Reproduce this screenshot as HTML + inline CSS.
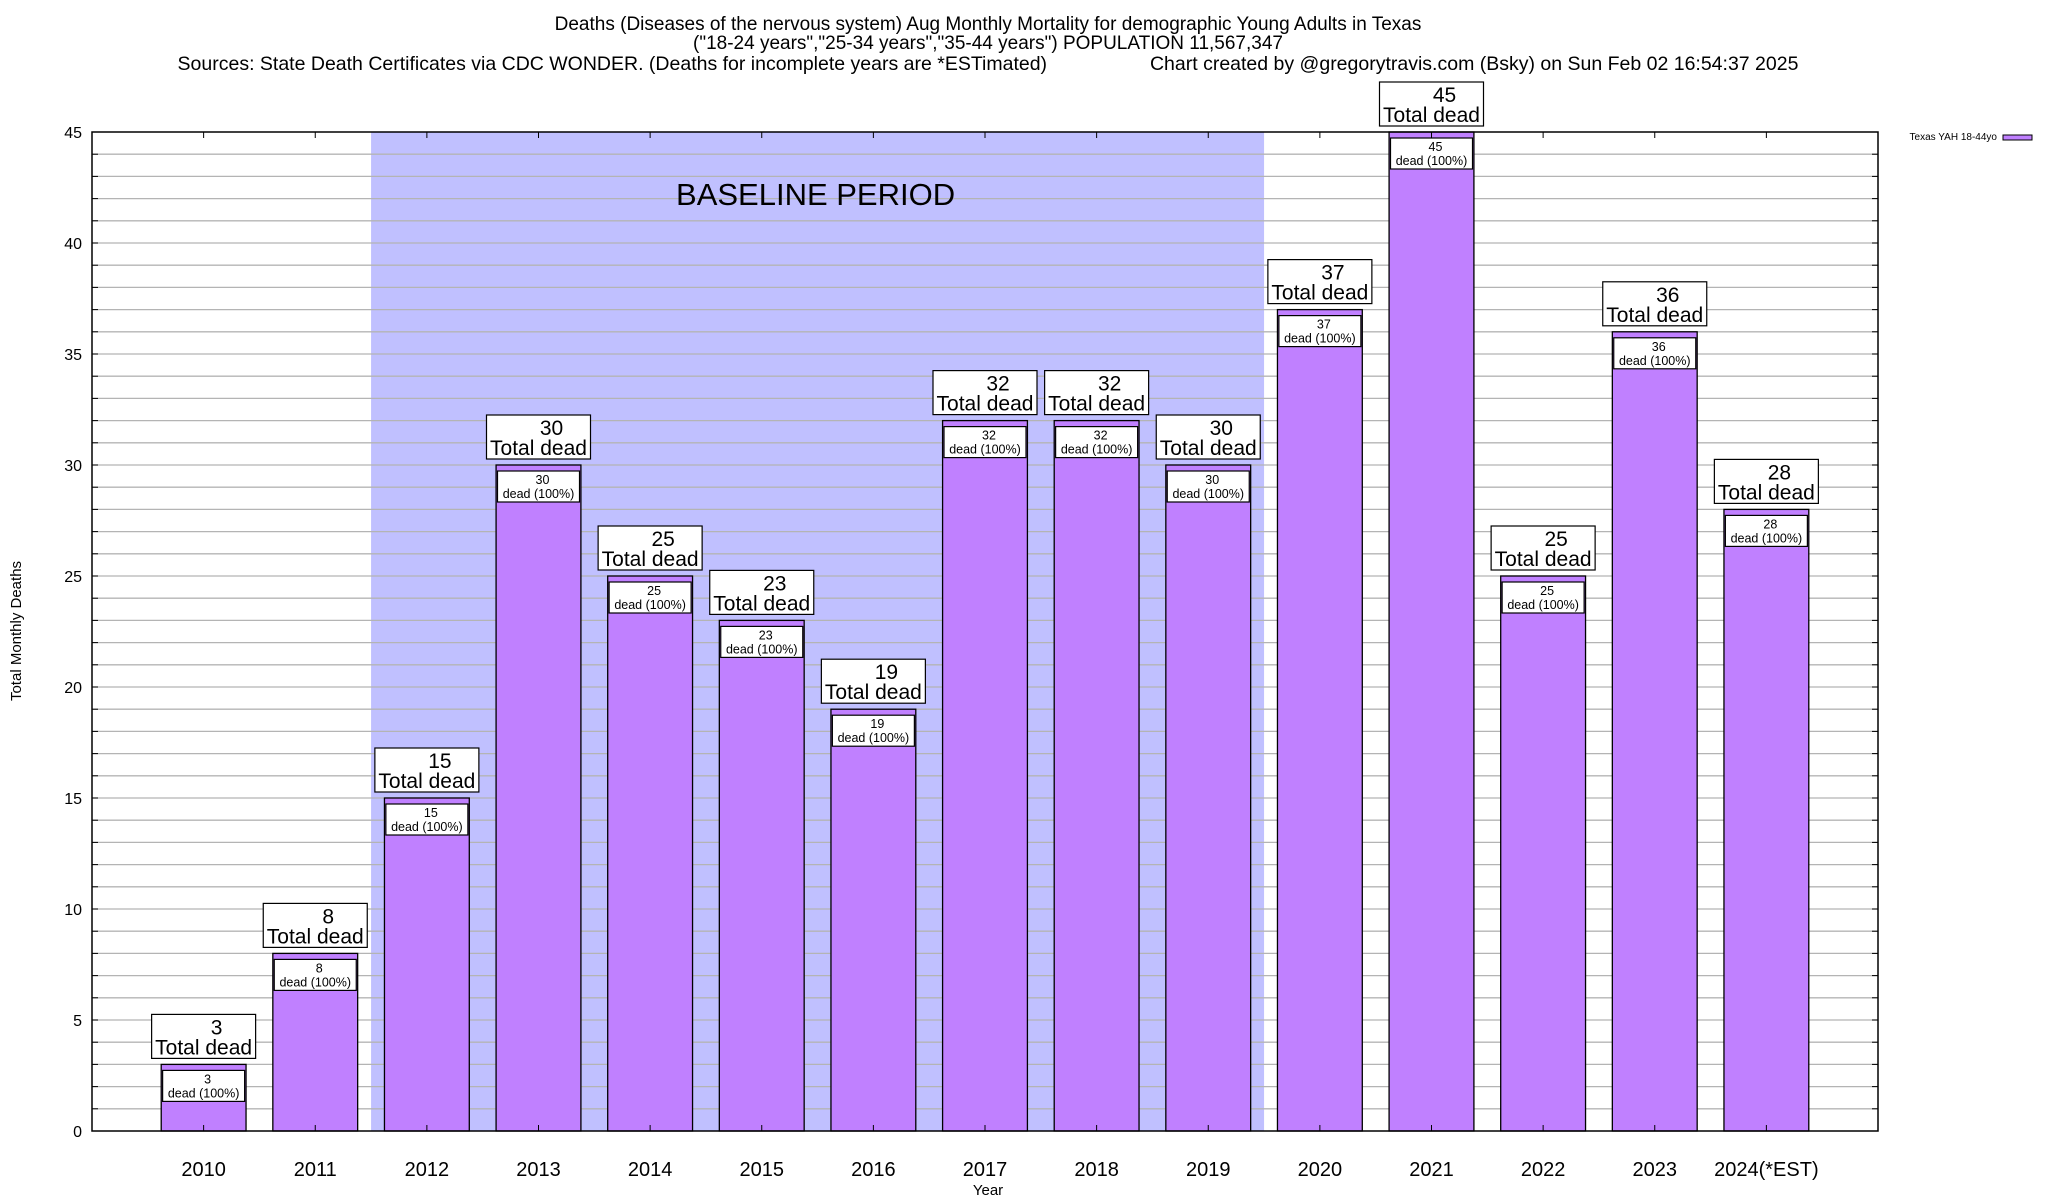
<!DOCTYPE html>
<html><head><meta charset="utf-8"><style>
html,body{margin:0;padding:0;background:#fff;}
svg{display:block;font-family:"Liberation Sans",Arial,sans-serif;}
</style></head><body>
<svg id="chart" width="2048" height="1200" viewBox="0 0 2048 1200">
<g font-size="19" text-anchor="middle">
<text x="988" y="30">Deaths (Diseases of the nervous system) Aug Monthly Mortality for demographic Young Adults in Texas</text>
<text x="988" y="49">("18-24 years","25-34 years","35-44 years") POPULATION 11,567,347</text>
<text x="988" y="70" font-size="19.5" xml:space="preserve">Sources: State Death Certificates via CDC WONDER. (Deaths for incomplete years are *ESTimated)                   Chart created by @gregorytravis.com (Bsky) on Sun Feb 02 16:54:37 2025</text>
</g>
<g id="plot"></g>
<text transform="translate(21,631) rotate(-90)" font-size="15" text-anchor="middle">Total Monthly Deaths</text>
<text x="988" y="1195" font-size="15" text-anchor="middle">Year</text>
<g>
<text x="1997" y="140" font-size="10" text-anchor="end">Texas YAH 18-44yo</text>
<rect x="2003" y="135" width="29" height="5" fill="#c080ff" stroke="#000" stroke-width="1"/>
</g>
</svg>
<script>
const categories = ["2010","2011","2012","2013","2014","2015","2016","2017","2018","2019","2020","2021","2022","2023","2024(*EST)"];
const deaths = [3,8,15,30,25,23,19,32,32,30,37,45,25,36,28];
const yTicks = [0,5,10,15,20,25,30,35,40,45];
const baselineRange = [2012,2019];

const L=92,R=1878,T=132,B=1131,yMax=45;
const ns="http://www.w3.org/2000/svg";
const g=document.getElementById('plot');
function x(i){return L+(i+1)*(R-L)/(categories.length+1);}
function y(v){return B-(v/yMax)*(B-T);}
function mk(tag,attrs,parent){const e=document.createElementNS(ns,tag);for(const k in attrs)e.setAttribute(k,attrs[k]);(parent||g).appendChild(e);return e;}
function txt(s,attrs,parent){const e=mk('text',attrs,parent);e.textContent=s;return e;}

// baseline shading
const i0=categories.indexOf(String(baselineRange[0])), i1=categories.indexOf(String(baselineRange[1]));
const bx0=x(i0-0.5), bx1=x(i1+0.5);
const sh=mk('rect',{x:bx0,y:T,width:bx1-bx0,height:B-T,fill:'#c0c0ff'});



// grid
for(let v=1;v<yMax;v++){
  const ln=mk('line',{x1:L,x2:R,y1:y(v),y2:y(v),stroke:'#b4b4b4','stroke-width':1.3});
  
  
  mk('line',{x1:L,x2:L+6,y1:y(v),y2:y(v),stroke:'#000'});
  mk('line',{x1:R-6,x2:R,y1:y(v),y2:y(v),stroke:'#000'});
}
const bt=txt('BASELINE PERIOD',{x:(bx0+bx1)/2-2,y:205,'font-size':31,'text-anchor':'middle'});


yTicks.forEach(v=>{
  const t=txt(String(v),{x:L-10,y:y(v)+6,'font-size':16,'text-anchor':'end'});
  
  
});

// bars
const bw=0.76*(R-L)/(categories.length+1);
categories.forEach((c,i)=>{
  const cx=x(i), v=deaths[i], top=y(v);
  const r=mk('rect',{x:cx-bw/2,y:top,width:bw,height:B-top,fill:'#c080ff',stroke:'#000','stroke-width':1.3});
  
  
  const sb=mk('rect',{x:cx-41,y:top+6,width:82,height:31,fill:'#fff',stroke:'#000','stroke-width':1.2});
  
  
  txt(String(v),{x:cx+4,y:top+19,'font-size':12.5,'text-anchor':'middle'});
  txt('dead (100%)',{x:cx,y:top+33,'font-size':12.5,'text-anchor':'middle'});
  const bb=mk('rect',{x:cx-52,y:top-50,width:104,height:44,fill:'#fff',stroke:'#000','stroke-width':1.2});
  
  
  txt(String(v),{x:cx+13,y:top-30,'font-size':21,'text-anchor':'middle'});
  txt('Total dead',{x:cx,y:top-10,'font-size':21,'text-anchor':'middle'});
  mk('line',{x1:cx,x2:cx,y1:B,y2:B-6,stroke:'#000'});
  mk('line',{x1:cx,x2:cx,y1:T,y2:T+6,stroke:'#000'});
  const xl=txt(c,{x:cx,y:1176,'font-size':20,'text-anchor':'middle'});
  
  
});

const fr=mk('rect',{x:L,y:T,width:R-L,height:B-T,fill:'none',stroke:'#000','stroke-width':1.5});


</script>
</body></html>
